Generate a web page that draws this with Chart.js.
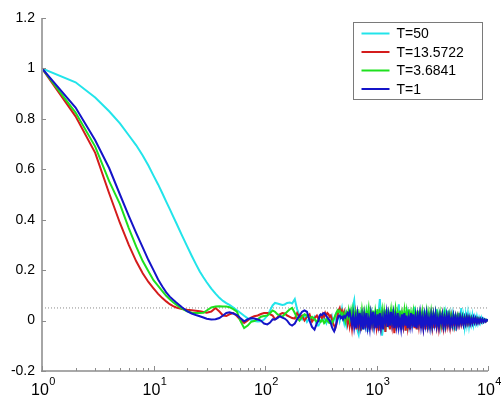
<!DOCTYPE html>
<html><head><meta charset="utf-8">
<script src="https://cdn.jsdelivr.net/npm/chart.js@4"></script>
<style>html,body{margin:0;padding:0;background:#fff;overflow:hidden;}</style>
</head><body>
<canvas id="c" width="501" height="400" style="display:block;width:501px;height:400px"></canvas>
<script>
// ---------------- data ----------------
const seriesLabels = ['T=50', 'T=13.5722', 'T=3.6841', 'T=1'];
const seriesColors = ['#22e4ea', '#d41c1c', '#1ee01e', '#1414c8'];

// lag positions (x values)
const lagsDecay = [1,2,3,4,5,6,7,8,9,10,11,12,13,14,15,16,18,20,22,24,26,28,30,33,36,39,42,45,48,52,56,60,65,70,75,80,86,92,98];
const lagsMid = [105,111,117,123,129,136,143,150,158,167,175,185,194,204,215,226,238,251,264,278,292];
const lagsDense = [302,309,316,324,331,339,347,355,363,372,
  380,389,398,407,417,427,437,447,457,468,
  479,490,501,513,525,537,550,562,575,589,
  603,617,631,646,661,676,692,708,724,741,
  759,776,794,813,832,851,871,891,912,933,
  955,977,1000,1023,1047,1072,1096,1122,1148,1175,
  1202,1230,1259,1288,1318,1349,1380,1413,1445,1479,
  1514,1549,1585,1622,1660,1698,1738,1778,1820,1862,
  1905,1950,1995,2042,2089,2138,2188,2239,2291,2344,
  2399,2455,2512,2570,2630,2692,2754,2818,2884,2951,
  3020,3090,3162,3236,3311,3388,3467,3548,3631,3715,
  3802,3890,3981,4074,4169,4266,4365,4467,4571,4677,
  4786,4898,5012,5129,5248,5370,5495,5623,5754,5888,
  6026,6166,6310,6457,6607,6761,6918,7079,7244,7413,
  7586,7762,7943,8128,8318,8511,8710,8913,9120,9333,
  9550,9772,10000];

// T=50 (cyan)
const t50Decay = [1.0,0.945,0.885,0.83,0.782,0.735,0.695,0.655,0.615,0.575,
  0.54,0.505,0.472,0.442,0.413,0.387,0.338,0.295,0.257,0.224,0.195,0.172,0.152,
  0.127,0.107,0.09,0.078,0.069,0.062,0.052,0.041,0.031,0.019,0.009,0.003,-0.002,
  -0.004,-0.003,0.004];
const t50Mid = [0.02,0.04,0.06,0.07,0.068,0.065,0.062,0.064,0.07,0.072,0.068,0.085,0.045,0.02,0.005,0.02,-0.005,0.01,0.0,0.015,-0.02];
const t50Dense = [-0.02,-0.01,0.0,0.01,0.005,0.015,0.0,-0.01,0.005,0.01,
  -0.005,0.0,0.015,-0.01,0.005,0.02,-0.005,0.01,0.03,0.0,
  0.02,0.045,0.01,-0.01,0.02,-0.015,0.01,0.03,-0.005,0.02,
  0.04,0.06,0.08,0.02,-0.02,-0.04,-0.055,-0.02,0.02,-0.01,
  0.03,-0.035,0.01,0.035,-0.045,0.0,0.025,-0.03,0.02,-0.015,
  0.035,-0.025,0.02,-0.03,0.04,0.085,0.01,-0.06,-0.02,0.025,
  -0.045,0.015,0.03,-0.03,0.02,-0.02,0.045,-0.025,0.01,-0.04,
  0.03,-0.015,0.065,-0.02,0.015,-0.035,0.025,-0.02,0.035,-0.04,
  0.02,-0.015,0.03,-0.03,0.015,-0.02,0.055,-0.025,0.02,-0.035,
  0.025,-0.02,0.035,-0.03,0.015,-0.02,0.04,-0.025,0.02,-0.035,
  0.025,-0.015,0.03,-0.03,0.02,-0.02,0.045,-0.025,0.015,-0.02,
  0.03,-0.035,0.02,-0.015,0.025,-0.02,0.04,-0.025,0.015,-0.03,
  0.02,-0.015,0.025,-0.04,0.02,-0.02,0.03,-0.015,0.05,-0.02,
  0.015,-0.025,0.02,-0.015,0.025,-0.02,0.015,-0.012,0.02,-0.015,
  0.012,-0.01,0.015,-0.01,0.01,-0.008,0.01,-0.006,0.006,-0.004,
  0.004,-0.002,0.0];

// T=13.5722 (red)
const t13Decay = [1.0,0.81,0.665,0.505,0.387,0.30,0.235,0.188,0.153,0.128,
  0.106,0.089,0.076,0.065,0.057,0.052,0.046,0.043,0.041,0.039,0.037,0.034,0.031,
  0.036,0.05,0.036,0.02,0.018,0.025,0.03,0.018,0.003,-0.01,0.0,0.012,0.017,
  0.02,0.026,0.03];
const t13Mid = [0.03,0.025,0.02,0.005,0.012,0.025,0.03,0.028,0.02,0.015,0.01,0.008,0.03,0.012,0.02,0.0,0.015,0.025,-0.005,0.01,0.02];
const t13Dense = [0.005,0.015,0.02,0.01,0.025,0.015,0.03,0.02,0.03,0.025,
  0.015,0.02,0.005,-0.01,-0.02,-0.03,-0.015,0.02,0.04,0.05,
  0.03,0.04,0.02,0.035,0.01,0.025,-0.01,0.02,-0.02,0.01,
  -0.03,0.015,-0.01,0.025,-0.035,0.01,-0.02,0.03,-0.04,0.015,
  -0.01,0.035,-0.03,0.01,-0.02,0.025,-0.035,0.02,-0.015,0.03,
  -0.03,0.015,-0.025,0.02,-0.04,0.015,-0.02,0.03,-0.03,0.01,
  -0.045,0.02,-0.025,0.025,-0.035,0.015,-0.02,0.03,-0.05,0.01,
  -0.03,0.02,-0.025,0.03,-0.035,0.015,-0.02,0.025,-0.04,0.02,
  -0.025,0.015,-0.035,0.02,-0.02,0.03,-0.03,0.01,-0.035,0.02,
  -0.02,0.025,-0.03,0.015,-0.025,0.02,-0.035,0.01,-0.02,0.025,
  -0.03,0.015,-0.025,0.02,-0.03,0.012,-0.022,0.02,-0.028,0.01,
  -0.02,0.018,-0.025,0.012,-0.022,0.015,-0.02,0.01,-0.024,0.015,
  -0.018,0.012,-0.02,0.01,-0.018,0.012,-0.016,0.01,-0.015,0.008,
  -0.014,0.01,-0.012,0.008,-0.012,0.007,-0.01,0.008,-0.01,0.006,
  -0.008,0.006,-0.008,0.005,-0.006,0.004,-0.006,0.004,-0.005,0.003,
  -0.004,0.002,0.0];

// T=3.6841 (green)
const t3Decay = [1.0,0.825,0.69,0.553,0.462,0.367,0.293,0.236,0.196,0.16,
  0.138,0.117,0.098,0.085,0.073,0.063,0.047,0.037,0.031,0.03,0.03,0.031,0.04,
  0.052,0.056,0.057,0.056,0.056,0.053,0.045,0.035,0.0,-0.03,-0.02,-0.005,-0.002,
  0.005,0.015,0.018];
const t3Mid = [0.02,0.03,0.04,0.035,0.025,0.02,0.015,0.025,0.035,0.045,0.05,0.03,0.01,0.0,0.015,0.025,0.02,0.008,0.015,0.005,-0.005];
const t3Dense = [0.005,0.0,-0.005,0.002,0.0,-0.01,-0.005,0.005,0.0,-0.008,
  -0.01,-0.005,-0.01,0.0,0.01,0.02,0.03,0.04,0.035,0.04,
  0.025,0.03,0.01,0.025,0.0,0.03,0.015,0.04,0.005,0.035,
  -0.01,0.04,0.01,0.03,-0.015,0.045,0.005,0.025,-0.01,0.04,
  0.0,0.03,-0.02,0.035,0.01,0.045,-0.01,0.03,0.0,0.04,
  -0.015,0.035,0.005,0.045,-0.01,0.03,0.01,0.04,-0.02,0.035,
  0.0,0.045,-0.01,0.03,0.005,0.04,-0.015,0.035,0.01,0.045,
  -0.005,0.03,0.0,0.04,-0.015,0.03,0.005,0.04,-0.01,0.035,
  0.0,0.045,-0.01,0.03,0.005,0.035,-0.015,0.03,0.0,0.04,
  -0.01,0.03,0.005,0.035,-0.01,0.025,0.0,0.035,-0.01,0.03,
  0.0,0.035,-0.008,0.028,0.0,0.03,-0.01,0.025,0.002,0.03,
  -0.008,0.022,0.0,0.028,-0.006,0.02,0.0,0.025,-0.008,0.02,
  0.0,0.022,-0.005,0.018,0.0,0.02,-0.005,0.016,0.0,0.018,
  -0.004,0.014,0.0,0.015,-0.004,0.012,0.0,0.012,-0.003,0.01,
  0.0,0.009,-0.002,0.008,0.0,0.007,-0.002,0.006,0.0,0.004,
  -0.001,0.003,0.001];

// T=1 (blue)
const t1Decay = [1.0,0.845,0.715,0.605,0.50,0.415,0.347,0.29,0.24,0.20,
  0.163,0.135,0.112,0.095,0.083,0.072,0.053,0.037,0.028,0.022,0.017,0.012,0.007,
  0.004,0.005,0.01,0.02,0.03,0.033,0.028,0.022,0.01,-0.003,0.006,0.01,0.008,
  0.004,0.0,-0.012];
const t1Mid = [-0.015,-0.008,0.005,0.004,0.01,0.017,0.012,0.008,0.0,-0.015,-0.02,-0.012,0.005,0.02,0.035,0.04,0.035,0.0,-0.025,-0.036,-0.01];
const t1Dense = [0.0,0.02,0.025,0.022,0.028,0.03,0.025,0.018,0.012,0.005,
  0.0,-0.01,-0.025,-0.035,-0.043,-0.03,-0.01,0.005,0.018,0.02,
  0.01,0.015,0.005,0.018,0.012,0.022,0.03,0.02,0.035,0.01,
  -0.015,0.02,-0.025,0.01,-0.03,0.025,-0.01,0.03,-0.02,0.015,
  -0.035,0.02,-0.015,0.03,-0.025,0.005,-0.03,0.025,-0.01,0.035,
  -0.02,0.015,-0.03,0.025,-0.015,0.03,-0.025,0.01,-0.035,0.02,
  -0.005,0.03,-0.025,0.02,-0.02,0.035,-0.01,0.025,-0.03,0.015,
  -0.02,0.03,-0.025,0.005,-0.03,0.025,-0.015,0.03,-0.02,0.02,
  -0.03,0.01,-0.02,0.03,-0.015,0.025,-0.025,0.015,-0.03,0.02,
  -0.01,0.028,-0.022,0.012,-0.028,0.02,-0.015,0.025,-0.02,0.01,
  -0.025,0.02,-0.018,0.022,-0.012,0.025,-0.02,0.01,-0.022,0.018,
  -0.008,0.02,-0.02,0.012,-0.018,0.02,-0.01,0.018,-0.02,0.008,
  -0.016,0.018,-0.012,0.015,-0.018,0.01,-0.014,0.016,-0.01,0.012,
  -0.015,0.01,-0.012,0.014,-0.008,0.012,-0.012,0.008,-0.01,0.011,
  -0.007,0.009,-0.009,0.006,-0.008,0.007,-0.005,0.006,-0.005,0.004,
  -0.004,0.003,0.0];

const yTicks = [-0.2, 0, 0.2, 0.4, 0.6, 0.8, 1, 1.2];
const xTickExponents = [0, 1, 2, 3, 4];
const xMinorMultipliers = [2, 3, 4, 5, 6, 7, 8, 9];
const thresholdLevel = 0.05;

// ---------------- build ----------------
const lags = lagsDecay.concat(lagsMid, lagsDense);
const seriesValues = [
  t50Decay.concat(t50Mid, t50Dense),
  t13Decay.concat(t13Mid, t13Dense),
  t3Decay.concat(t3Mid, t3Dense),
  t1Decay.concat(t1Mid, t1Dense)
];
const FONT = "'Liberation Sans', Arial, Helvetica, sans-serif";

const datasets = seriesValues.map((vals, i) => ({
  label: seriesLabels[i],
  data: lags.map((x, j) => ({x: x, y: vals[j]})),
  borderColor: seriesColors[i],
  backgroundColor: seriesColors[i],
  borderWidth: 2,
  pointRadius: 0,
  tension: 0,
  fill: false,
  order: 3 - i
}));
datasets.push({
  label: 'threshold',
  data: [{x: 10 ** xTickExponents[0], y: thresholdLevel}, {x: 10 ** xTickExponents[xTickExponents.length - 1], y: thresholdLevel}],
  borderColor: '#8a8a8a',
  borderWidth: 1,
  borderDash: [1, 2],
  pointRadius: 0,
  fill: false,
  order: 10
});

const decorPlugin = {
  id: 'decor',
  afterDraw(chart) {
    const ctx = chart.ctx;
    const {left, right, top, bottom} = chart.chartArea;
    const xs = chart.scales.x, ys = chart.scales.y;
    ctx.save();
    // axes lines
    ctx.strokeStyle = '#a6a6a6';
    ctx.lineWidth = 2;
    ctx.beginPath(); ctx.moveTo(left, top); ctx.lineTo(left, bottom + 1); ctx.stroke();
    ctx.strokeStyle = '#8c8c8c';
    ctx.lineWidth = 1.5;
    ctx.beginPath(); ctx.moveTo(left - 1, bottom); ctx.lineTo(right, bottom); ctx.stroke();
    // y ticks (inward)
    ctx.lineWidth = 1;
    ctx.strokeStyle = '#8c8c8c';
    yTicks.forEach(v => {
      const py = Math.round(ys.getPixelForValue(v)) + 0.5;
      ctx.beginPath(); ctx.moveTo(left, py); ctx.lineTo(left + 4, py); ctx.stroke();
    });
    // x ticks (inward) major + minor
    xTickExponents.forEach((e, k) => {
      const px = Math.round(xs.getPixelForValue(10 ** e)) + 0.5;
      ctx.beginPath(); ctx.moveTo(px, bottom); ctx.lineTo(px, bottom - 5); ctx.stroke();
      if (k < xTickExponents.length - 1) {
        xMinorMultipliers.forEach(m => {
          const mx = Math.round(xs.getPixelForValue(m * 10 ** e)) + 0.5;
          ctx.beginPath(); ctx.moveTo(mx, bottom); ctx.lineTo(mx, bottom - 3); ctx.stroke();
        });
      }
    });
    // x tick labels: 10^e
    ctx.fillStyle = '#000';
    ctx.textBaseline = 'alphabetic';
    xTickExponents.forEach(e => {
      const px = xs.getPixelForValue(10 ** e);
      ctx.font = '16px ' + FONT;
      const wBase = ctx.measureText('10').width;
      ctx.font = '11px ' + FONT;
      const wExp = ctx.measureText(String(e)).width;
      const x0 = px - (wBase + wExp) / 2 + 1;
      ctx.font = '16px ' + FONT;
      ctx.textAlign = 'left';
      ctx.fillText('10', x0, bottom + 24);
      ctx.font = '11px ' + FONT;
      ctx.fillText(String(e), x0 + wBase + 0.5, bottom + 14);
    });
    // legend
    const bx = 353.5, by = 22.5, bw = 129, bh = 77;
    ctx.fillStyle = '#fff';
    ctx.fillRect(bx, by, bw, bh);
    ctx.strokeStyle = '#7a7a7a';
    ctx.lineWidth = 1;
    ctx.strokeRect(bx, by, bw, bh);
    ctx.font = '14px ' + FONT;
    ctx.textAlign = 'left';
    ctx.textBaseline = 'middle';
    seriesLabels.forEach((lab, i) => {
      const ry = by + 11 + i * 18.5;
      ctx.strokeStyle = seriesColors[i];
      ctx.lineWidth = 2;
      ctx.beginPath(); ctx.moveTo(bx + 8, ry); ctx.lineTo(bx + 36, ry); ctx.stroke();
      ctx.fillStyle = '#000';
      ctx.fillText(lab, bx + 43, ry + 1);
    });
    ctx.restore();
  }
};

new Chart(document.getElementById('c'), {
  type: 'line',
  data: {datasets: datasets},
  options: {
    responsive: false,
    animation: false,
    devicePixelRatio: 1,
    layout: {padding: {top: 18, right: 13, left: 0, bottom: 0}},
    plugins: {legend: {display: false}, tooltip: {enabled: false}},
    scales: {
      x: {
        type: 'logarithmic',
        min: 10 ** xTickExponents[0],
        max: 10 ** xTickExponents[xTickExponents.length - 1],
        ticks: {display: false},
        grid: {display: false, drawTicks: false},
        border: {display: false},
        afterFit: s => { s.height = 29; }
      },
      y: {
        type: 'linear',
        min: yTicks[0],
        max: yTicks[yTicks.length - 1],
        afterBuildTicks: s => { s.ticks = yTicks.map(v => ({value: v})); },
        ticks: {
          color: '#000',
          padding: 7,
          font: {size: 14, family: FONT},
          callback: v => String(Math.round(v * 10) / 10)
        },
        grid: {display: false, drawTicks: false},
        border: {display: false},
        afterFit: s => { s.width = 42; }
      }
    }
  },
  plugins: [decorPlugin]
});
</script>
</body></html>
